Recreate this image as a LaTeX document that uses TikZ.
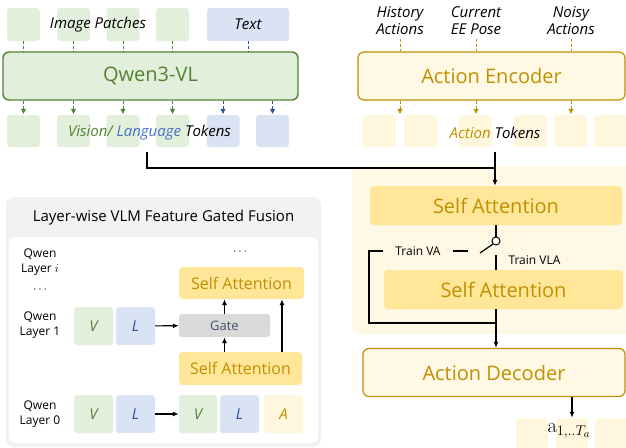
\documentclass[tikz,border=0pt]{standalone}
\usepackage[no-math]{fontspec}
\setmainfont{Open Sans}
\usetikzlibrary{arrows.meta}
\definecolor{vgreen}{HTML}{548235}
\definecolor{vgreenfill}{HTML}{E2EFDA}
\definecolor{lblue}{HTML}{2F5597}
\definecolor{lbluetxt}{HTML}{4472C4}
\definecolor{lbluefill}{HTML}{DAE3F3}
\definecolor{agold}{HTML}{BF9000}
\definecolor{agoldfill}{HTML}{FFF8E5}
\definecolor{atokfill}{HTML}{FFF6DE}
\definecolor{sattfill}{HTML}{FFE699}
\definecolor{panelgray}{HTML}{F2F2F2}
\definecolor{gategray}{HTML}{D9D9D9}
\definecolor{gatetxt}{HTML}{44546A}
\newcommand\bigfont{\fontsize{20}{24}\selectfont}
\newcommand\midfont{\fontsize{16}{19}\selectfont}
\newcommand\lblfont{\fontsize{15}{17}\selectfont}
\newcommand\smallfont{\fontsize{12}{15}\selectfont}
\tikzset{
  tok/.style={rounded corners=3pt, minimum width=33, minimum height=33, inner sep=0pt},
  gtok/.style={tok, fill=vgreenfill},
  btok/.style={tok, fill=lbluefill},
  atok/.style={tok, fill=atokfill},
  bigbox/.style={rounded corners=6pt, line width=1.2pt, minimum height=48, font=\bigfont},
  sabox/.style={rounded corners=4pt, fill=sattfill, text=agold, inner sep=0pt},
  gdash/.style={densely dashed, vgreen, line width=0.7pt},
  bdash/.style={densely dashed, lblue, line width=0.7pt},
  adash/.style={densely dashed, agold, line width=0.7pt},
  garr/.style={gdash, -{Triangle[length=5pt,width=5pt]}, shorten >=1pt},
  barr/.style={bdash, -{Triangle[length=5pt,width=5pt]}, shorten >=1pt},
  aarr/.style={adash, -{Triangle[length=5pt,width=5pt]}, shorten >=1pt},
  wire/.style={line width=1.2pt},
  arr/.style={wire, -{Latex[length=6pt,width=5pt]}},
}
\begin{document}
\begin{tikzpicture}[x=1pt, y=-1pt, font=\lblfont]
\useasboundingbox (0,0) rectangle (626,447);

% ---- VLM branch
\foreach \n/\x in {1/23.5,2/73.5,3/123,4/172.5}
  \node[gtok] (p\n) at (\x,24.5) {};
\node[btok, minimum width=82] (ptxt) at (248,24.5) {\itshape Text};
\node (plbl) at (98,25) {\itshape Image Patches};
\node[bigbox, draw=vgreen, fill=vgreenfill, text=vgreen, minimum width=295, line width=1.4pt] (qwen) at (150.5,76) {Qwen3-VL};
\foreach \n in {1,...,4}
  \draw[gdash] (p\n.south) -- (p\n.south |- qwen.north);
\draw[bdash] (ptxt.south) -- (ptxt.south |- qwen.north);

\foreach \n/\x in {1/23.5,2/73.5,3/123,4/172.5}
  \node[gtok, minimum height=32] (v\n) at (\x,131) {};
\foreach \n/\x in {5/223,6/272.5}
  \node[btok, minimum height=32] (v\n) at (\x,131) {};
\foreach \n in {1,...,4}
  \draw[garr] (qwen.south -| v\n) -- (v\n.north);
\foreach \n in {5,6}
  \draw[barr] (qwen.south -| v\n) -- (v\n.north);
\node (vltxt) at (149.5,133) {\itshape\textcolor{vgreen}{Vision/} \textcolor{lbluetxt}{Language} Tokens};

% ---- action branch
\node[align=center] (hist) at (400,21) {\itshape History\\\itshape Actions};
\node[align=center] (pose) at (476,21) {\itshape Current\\\itshape EE Pose};
\node[align=center] (noisy) at (571,21) {\itshape Noisy\\\itshape Actions};
\node[bigbox, draw=agold, fill=agoldfill, text=agold, minimum width=267] (aenc) at (491.5,76) {Action Encoder};
\foreach \s in {hist,pose,noisy}
  \draw[adash] (\s.south) -- (\s.south |- aenc.north);
\foreach \n/\x in {1/379.5,2/420.5,3/475.5,4/530.5,5/570.5,6/610.5}
  \node[atok, minimum height=32] (at\n) at (\x,131) {};
\foreach \s in {hist,pose,noisy}
  \draw[aarr] (aenc.south -| \s.south) -- (\s.south |- at1.north);
\node (attxt) at (495,133) {\itshape\textcolor{agold}{Action} Tokens};

% ---- fusion stack
\fill[agoldfill, rounded corners=8pt] (352,166) rectangle (640,334);
\node[sabox, font=\bigfont, minimum width=252, minimum height=39] (sa1) at (496,205.5) {Self Attention};
\node[sabox, font=\bigfont, minimum width=239, minimum height=39] (sa2) at (503.5,289.5) {Self Attention};
\node[bigbox, draw=agold, fill=agoldfill, text=agold, minimum width=262] (adec) at (494,372.5) {Action Decoder};

\coordinate (vlout) at (147,152);
\coordinate (vlbend) at (147,168);
\coordinate (atout) at (495,152);
\draw[wire] (vlout) -- (vlbend) -- (vlbend -| atout);
\draw[arr] (atout) -- (sa1.north -| atout);

% switch
\node[circle, draw, line width=1pt, fill=white, minimum size=8, inner sep=0pt] (sw) at (496,241) {};
\coordinate (lever) at (480,253);
\coordinate (vapin) at (468,251);
\coordinate (vlapin) at (496,255);
\coordinate (vabend) at (369,251);
\coordinate (merge) at (496,323);
\draw[wire] (sa1.south -| sw) -- (sw.north);
\draw[wire] (lever) -- (sw.south west);
\draw[wire] (vapin) -- ++(-15,0);
\draw[wire] (vlapin) -- (vlapin |- sa2.north);
\draw[wire] (383,251) -- (vabend) -- (vabend |- merge) -- (merge);
\draw[wire] (sa2.south -| merge) -- (merge);
\draw[arr] (merge) -- (adec.north -| merge);
\node[font=\smallfont] (tva) at (418,251) {Train VA};
\node[font=\smallfont, anchor=west] (tvla) at (505,260) {Train VLA};

% outputs
\foreach \n/\x in {1/532,2/572,3/611}
  \node[atok, minimum width=32, minimum height=32] (o\n) at (\x,434) {};
\draw[arr] (adec.south -| o2) -- (o2.north);
\node[font=\fontsize{21}{24}\selectfont, anchor=center] (otxt) at (569,431) {$\mathrm{a}_{1,..T_a}$};

% ---- gated fusion panel
\fill[panelgray, rounded corners=8pt] (6,197) rectangle (321,447);
\fill[white, rounded corners=6pt] (9,237) rectangle (318,443);
\node[font=\fontsize{15}{18}\selectfont] (ftitle) at (163.5,218) {Layer-wise VLM Feature Gated Fusion};

\node[font=\smallfont, align=center] (qli) at (40,262) {Qwen\\Layer $i$};
\node[font=\smallfont] (qldots) at (40,290) {$\cdots$};
\node[font=\smallfont, align=center] (ql1) at (40,325) {Qwen\\Layer 1};
\node[font=\smallfont, align=center] (ql0) at (40,414) {Qwen\\Layer 0};
\node[font=\smallfont] (topdots) at (240,252) {$\cdots$};

\node[gtok, minimum width=39, minimum height=38, font=\fontsize{15}{18}\selectfont\itshape, text=vgreen] (fv1) at (93.5,326) {V};
\node[btok, minimum width=39, minimum height=38, font=\fontsize{15}{18}\selectfont\itshape, text=lblue] (fl1) at (135.5,326) {L};
\node[gtok, minimum width=39, minimum height=38, font=\fontsize{15}{18}\selectfont\itshape, text=vgreen] (fv0) at (93.5,414) {V};
\node[btok, minimum width=39, minimum height=38, font=\fontsize{15}{18}\selectfont\itshape, text=lblue] (fl0) at (135.5,414) {L};
\node[gtok, minimum width=38, minimum height=38, font=\fontsize{15}{18}\selectfont\itshape, text=vgreen] (fv) at (198,414) {V};
\node[btok, minimum width=39, minimum height=38, font=\fontsize{15}{18}\selectfont\itshape, text=lblue] (fl) at (239.5,414) {L};
\node[atok, minimum width=39, minimum height=38, font=\fontsize{15}{18}\selectfont\itshape, text=agold] (fa) at (283.5,414) {A};

\node[rounded corners=3pt, fill=gategray, text=gatetxt, minimum width=91, minimum height=23, inner sep=0pt, font=\fontsize{13}{15}\selectfont] (gate) at (224.5,325.5) {Gate};
\node[sabox, font=\fontsize{16}{19}\selectfont, minimum width=125, minimum height=32] (fsa1) at (241.5,283) {Self Attention};
\node[sabox, font=\fontsize{16}{19}\selectfont, minimum width=123, minimum height=33] (fsa0) at (240.5,368.5) {Self Attention};

\draw[arr] (fl1) -- (gate);
\draw[arr] (fl0) -- (fv);
\draw[arr] (fsa0.north -| gate) -- (gate.south);
\draw[arr] (gate.north) -- (fsa1.south -| gate);
\draw[arr] (fsa0.north -| 282,0) -- (fsa1.south -| 282,0);
\end{tikzpicture}
\end{document}
